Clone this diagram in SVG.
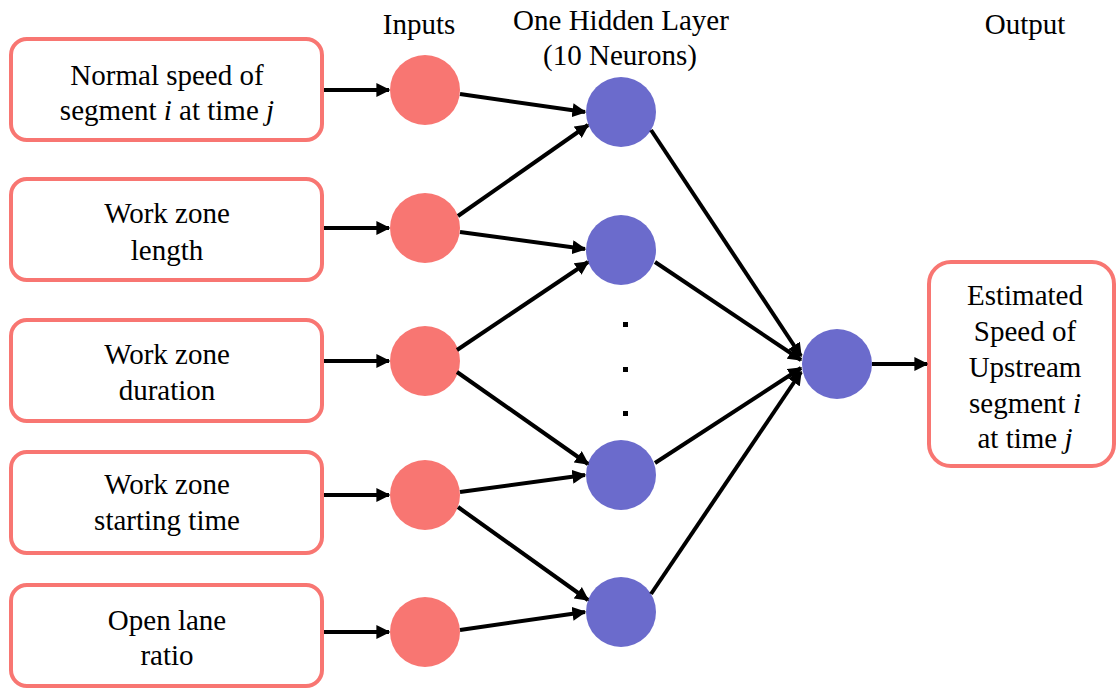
<svg xmlns="http://www.w3.org/2000/svg" width="1116" height="688" viewBox="0 0 1116 688">
<style>
.box{fill:#fff;stroke:#f87672;stroke-width:4}
.in{fill:#f87672}
.hid{fill:#6b6bcc}
.t{font-size:29px;fill:#000;text-anchor:middle}
.c{stroke:#000;stroke-width:4;fill:none;marker-end:url(#ah)}
</style>
<defs>
<marker id="ah" viewBox="0 0 10 10" refX="9" refY="5" markerWidth="3.5" markerHeight="3.5" orient="auto" markerUnits="strokeWidth">
<path d="M0,0 L10,5 L0,10 z" fill="#000"/>
</marker>
</defs>
<g font-family="'Liberation Serif', 'Times New Roman', 'DejaVu Serif', serif">
<g id="titles">
<text class="t" x="419" y="34">Inputs</text>
<text class="t" x="621" y="30">One Hidden Layer</text>
<text class="t" x="620" y="65">(10 Neurons)</text>
<text class="t" x="1025" y="34">Output</text>
</g>
<g id="box1"><rect class="box" x="11" y="39" width="311" height="101" rx="16"/>
<text class="t" x="167" y="85">Normal speed of</text>
<text class="t" x="167" y="120">segment <tspan font-style="italic">i</tspan> at time <tspan font-style="italic">j</tspan></text></g>
<g id="box2"><rect class="box" x="11" y="179" width="311" height="101" rx="16"/>
<text class="t" x="167" y="223">Work zone</text>
<text class="t" x="167" y="260">length</text></g>
<g id="box3"><rect class="box" x="11" y="320" width="311" height="101" rx="16"/>
<text class="t" x="167" y="364">Work zone</text>
<text class="t" x="167" y="400">duration</text></g>
<g id="box4"><rect class="box" x="11" y="452" width="311" height="101" rx="16"/>
<text class="t" x="167" y="494">Work zone</text>
<text class="t" x="167" y="530">starting time</text></g>
<g id="box5"><rect class="box" x="11" y="585" width="311" height="101" rx="16"/>
<text class="t" x="167" y="630">Open lane</text>
<text class="t" x="167" y="665">ratio</text></g>
<g id="in1"><circle class="in" cx="425" cy="90" r="35"/></g>
<g id="in2"><circle class="in" cx="425" cy="228" r="35"/></g>
<g id="in3"><circle class="in" cx="425" cy="361" r="35"/></g>
<g id="in4"><circle class="in" cx="425" cy="495" r="35"/></g>
<g id="in5"><circle class="in" cx="425" cy="632" r="35"/></g>
<g id="h1"><circle class="hid" cx="621" cy="112" r="35"/></g>
<g id="h2"><circle class="hid" cx="621" cy="250" r="35"/></g>
<g id="h3"><circle class="hid" cx="621" cy="475" r="35"/></g>
<g id="h4"><circle class="hid" cx="621" cy="612" r="35"/></g>
<g id="dots">
<rect x="623" y="322" width="5" height="5"/>
<rect x="623" y="367" width="5" height="5"/>
<rect x="623" y="411" width="5" height="5"/>
</g>
<g id="out"><circle class="hid" cx="837" cy="364" r="35"/></g>
<g id="outbox"><rect class="box" x="929" y="262" width="185" height="204" rx="22"/>
<text class="t" x="1025" y="305">Estimated</text>
<text class="t" x="1025" y="341">Speed of</text>
<text class="t" x="1025" y="377">Upstream</text>
<text class="t" x="1025" y="413">segment <tspan font-style="italic">i</tspan></text>
<text class="t" x="1025" y="448">at time <tspan font-style="italic">j</tspan></text></g>
</g>
<g id="connectors">
<line class="c" x1="324" y1="90" x2="389" y2="90"/>
<line class="c" x1="324" y1="228" x2="389" y2="228"/>
<line class="c" x1="324" y1="361" x2="389" y2="361"/>
<line class="c" x1="324" y1="495" x2="389" y2="495"/>
<line class="c" x1="324" y1="632" x2="389" y2="632"/>
<line class="c" x1="460" y1="94" x2="585" y2="112"/>
<line class="c" x1="458" y1="216" x2="588" y2="125"/>
<line class="c" x1="460" y1="232" x2="585" y2="249"/>
<line class="c" x1="457" y1="350" x2="588" y2="262"/>
<line class="c" x1="457" y1="372" x2="588" y2="464"/>
<line class="c" x1="460" y1="492" x2="585" y2="475"/>
<line class="c" x1="458" y1="507" x2="588" y2="600"/>
<line class="c" x1="460" y1="630" x2="585" y2="612"/>
<line class="c" x1="651" y1="130" x2="801" y2="356"/>
<line class="c" x1="655" y1="262" x2="801" y2="360"/>
<line class="c" x1="655" y1="463" x2="801" y2="368"/>
<line class="c" x1="651" y1="594" x2="801" y2="372"/>
<line class="c" x1="872" y1="364" x2="927" y2="364"/>
</g>
</svg>
